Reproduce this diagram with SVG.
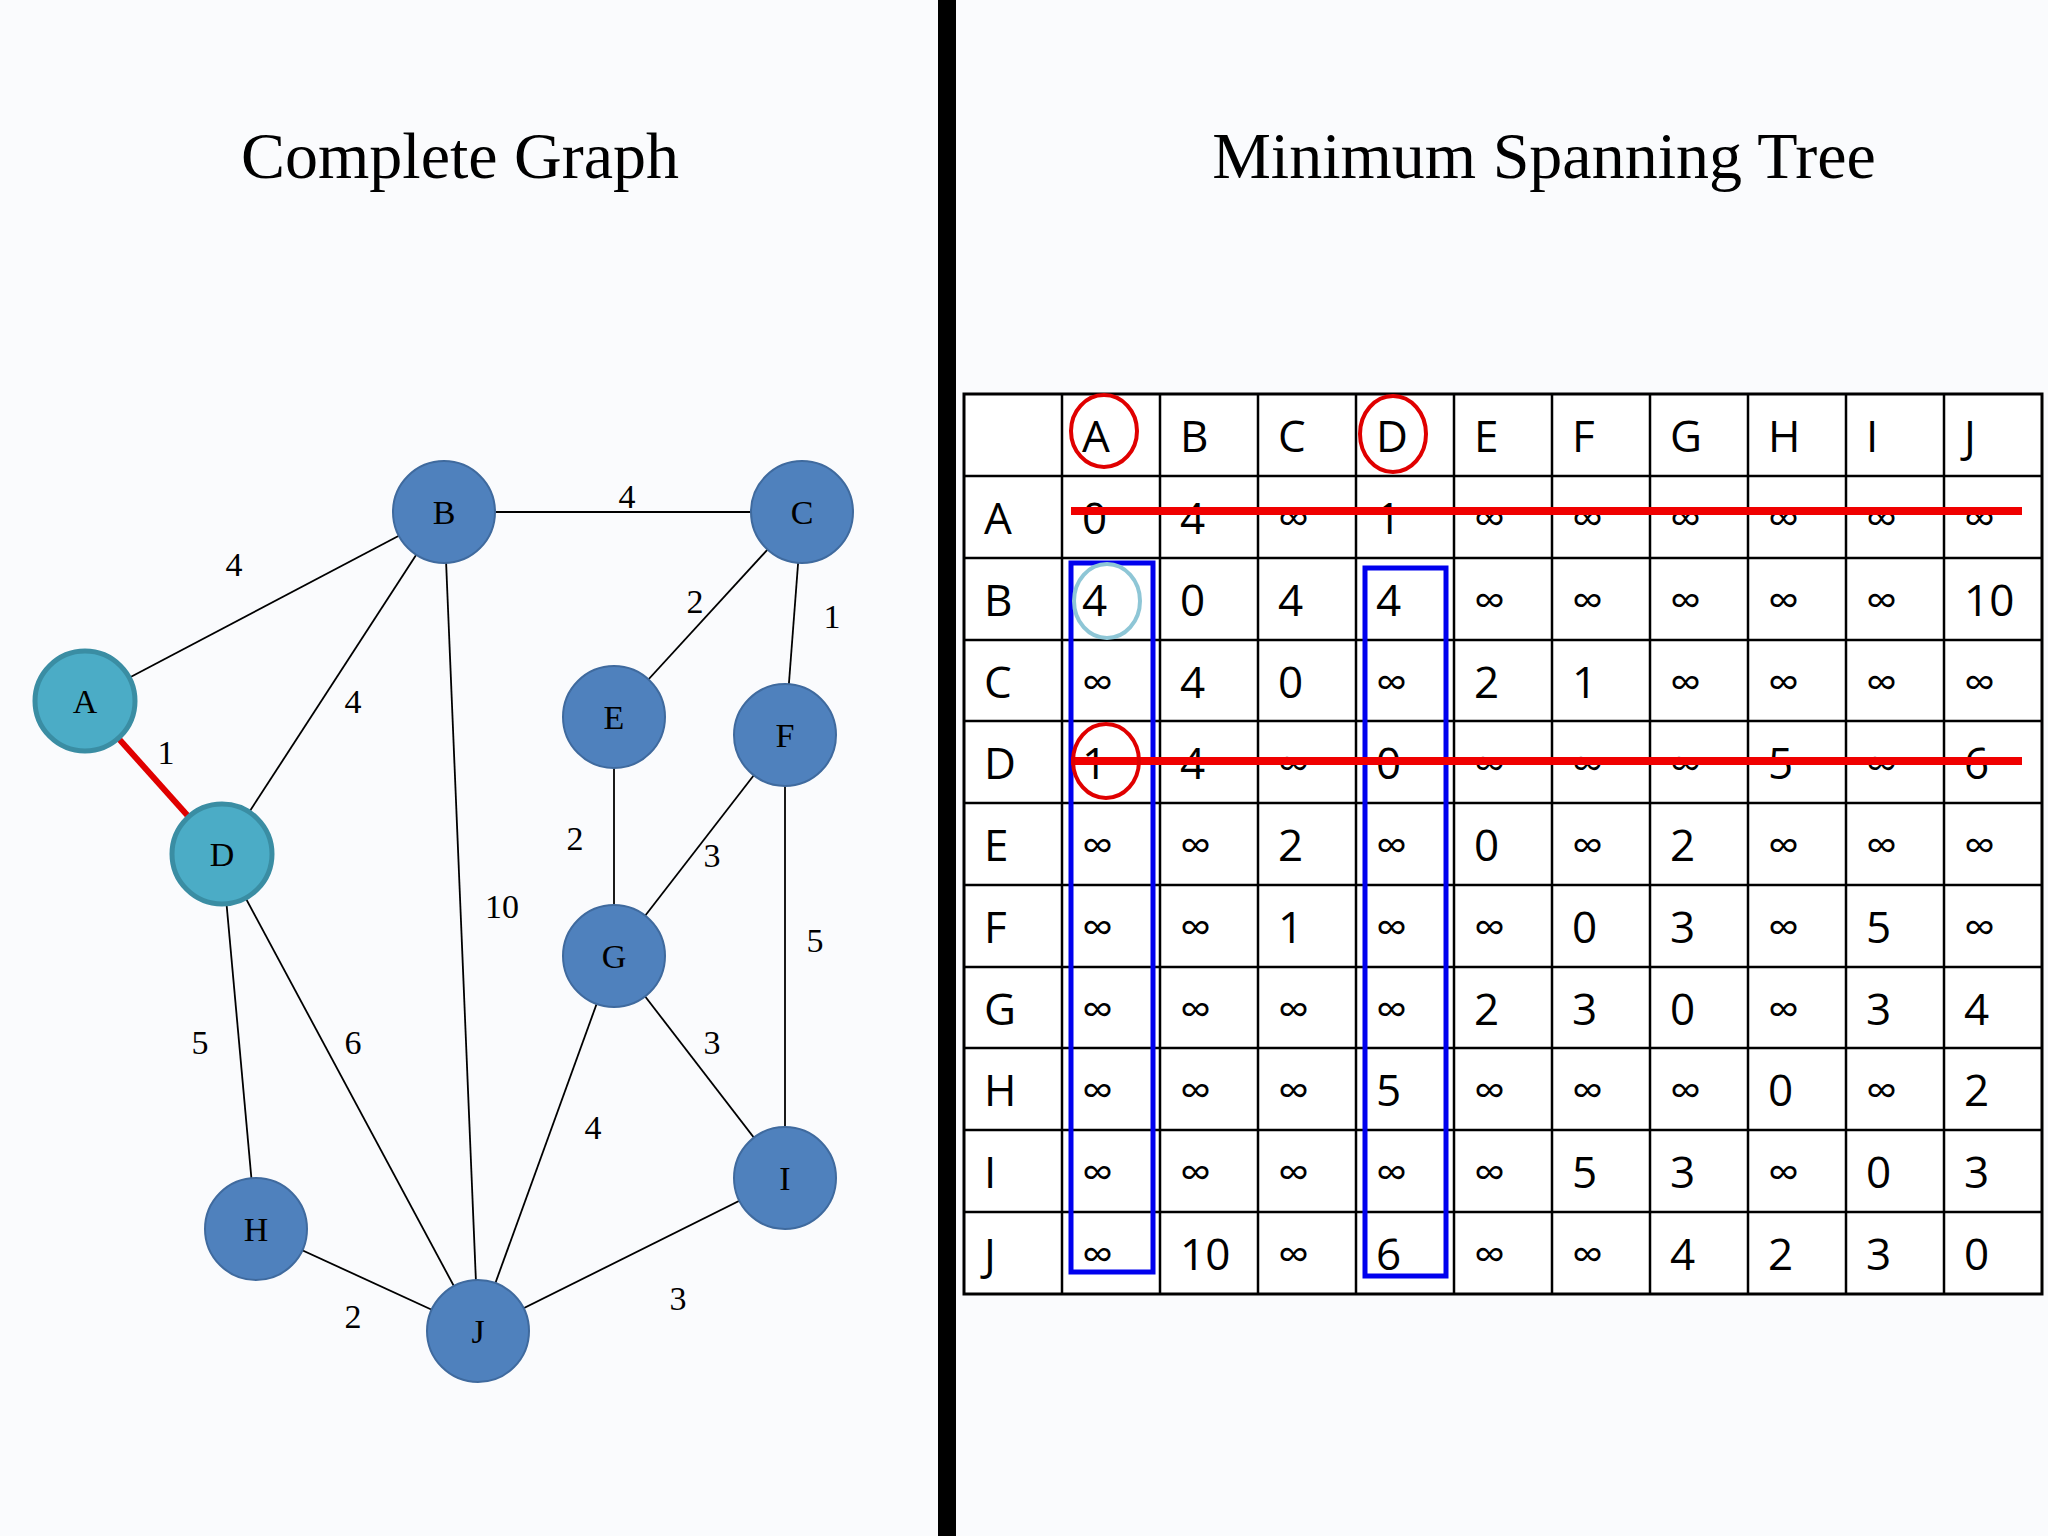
<svg xmlns="http://www.w3.org/2000/svg" width="2048" height="1536" viewBox="0 0 2048 1536">
<style>
.title{font-family:"Liberation Serif",serif;font-size:66px;fill:#000;text-anchor:middle}
.nl{font-family:"Liberation Serif",serif;font-size:34px;fill:#000;text-anchor:middle}
.el{font-family:"Liberation Serif",serif;font-size:34px;fill:#000;text-anchor:middle}
.e{stroke:#000;stroke-width:1.8;fill:none}
.n{fill:#4F81BD;stroke:#3F6A9E;stroke-width:2}
.t{fill:#4BACC6;stroke:#3A8DA3;stroke-width:5}
.c{font-family:"Open Sans","DejaVu Sans",sans-serif;font-size:44px;fill:#000}
.g{stroke:#000;stroke-width:2.5}
</style>
<rect width="2048" height="1536" fill="#fafbfd"/>
<rect x="938" y="0" width="18" height="1536" fill="#000"/>
<text class="title" x="460" y="178">Complete Graph</text>
<text class="title" x="1544" y="178">Minimum Spanning Tree</text>
<g id="connectors">
<line class="e" x1="85" y1="701" x2="444" y2="512"/>
<line x1="85" y1="701" x2="222" y2="854" stroke="#E00000" stroke-width="6"/>
<line class="e" x1="444" y1="512" x2="802" y2="512"/>
<line class="e" x1="444" y1="512" x2="222" y2="854"/>
<line class="e" x1="444" y1="512" x2="478" y2="1331"/>
<line class="e" x1="802" y1="512" x2="614" y2="717"/>
<line class="e" x1="802" y1="512" x2="785" y2="735"/>
<line class="e" x1="222" y1="854" x2="256" y2="1229"/>
<line class="e" x1="222" y1="854" x2="478" y2="1331"/>
<line class="e" x1="614" y1="717" x2="614" y2="956"/>
<line class="e" x1="785" y1="735" x2="614" y2="956"/>
<line class="e" x1="785" y1="735" x2="785" y2="1178"/>
<line class="e" x1="614" y1="956" x2="785" y2="1178"/>
<line class="e" x1="614" y1="956" x2="478" y2="1331"/>
<line class="e" x1="256" y1="1229" x2="478" y2="1331"/>
<line class="e" x1="785" y1="1178" x2="478" y2="1331"/>
<text class="el" x="234" y="576">4</text>
<text class="el" x="627" y="508">4</text>
<text class="el" x="695" y="613">2</text>
<text class="el" x="832" y="628">1</text>
<text class="el" x="166" y="764">1</text>
<text class="el" x="353" y="713">4</text>
<text class="el" x="575" y="850">2</text>
<text class="el" x="712" y="867">3</text>
<text class="el" x="502" y="918">10</text>
<text class="el" x="815" y="952">5</text>
<text class="el" x="200" y="1054">5</text>
<text class="el" x="353" y="1054">6</text>
<text class="el" x="712" y="1054">3</text>
<text class="el" x="593" y="1139">4</text>
<text class="el" x="353" y="1328">2</text>
<text class="el" x="678" y="1310">3</text>
</g>
<g id="A"><circle class="t" cx="85" cy="701" r="50"/><text class="nl" x="85" y="713">A</text></g>
<g id="B"><circle class="n" cx="444" cy="512" r="51"/><text class="nl" x="444" y="524">B</text></g>
<g id="C"><circle class="n" cx="802" cy="512" r="51"/><text class="nl" x="802" y="524">C</text></g>
<g id="D"><circle class="t" cx="222" cy="854" r="50"/><text class="nl" x="222" y="866">D</text></g>
<g id="E"><circle class="n" cx="614" cy="717" r="51"/><text class="nl" x="614" y="729">E</text></g>
<g id="F"><circle class="n" cx="785" cy="735" r="51"/><text class="nl" x="785" y="747">F</text></g>
<g id="G"><circle class="n" cx="614" cy="956" r="51"/><text class="nl" x="614" y="968">G</text></g>
<g id="H"><circle class="n" cx="256" cy="1229" r="51"/><text class="nl" x="256" y="1241">H</text></g>
<g id="I"><circle class="n" cx="785" cy="1178" r="51"/><text class="nl" x="785" y="1190">I</text></g>
<g id="J"><circle class="n" cx="478" cy="1331" r="51"/><text class="nl" x="478" y="1343">J</text></g>
<g id="table">
<rect x="964" y="394" width="1078" height="900" fill="#fff" stroke="#000" stroke-width="3"/>
<g class="g">
<line x1="1062" y1="394" x2="1062" y2="1294"/><line x1="1160" y1="394" x2="1160" y2="1294"/><line x1="1258" y1="394" x2="1258" y2="1294"/><line x1="1356" y1="394" x2="1356" y2="1294"/><line x1="1454" y1="394" x2="1454" y2="1294"/><line x1="1552" y1="394" x2="1552" y2="1294"/><line x1="1650" y1="394" x2="1650" y2="1294"/><line x1="1748" y1="394" x2="1748" y2="1294"/><line x1="1846" y1="394" x2="1846" y2="1294"/><line x1="1944" y1="394" x2="1944" y2="1294"/>
<line x1="964" y1="476" x2="2042" y2="476"/><line x1="964" y1="558" x2="2042" y2="558"/><line x1="964" y1="640" x2="2042" y2="640"/><line x1="964" y1="721" x2="2042" y2="721"/><line x1="964" y1="803" x2="2042" y2="803"/><line x1="964" y1="885" x2="2042" y2="885"/><line x1="964" y1="967" x2="2042" y2="967"/><line x1="964" y1="1048" x2="2042" y2="1048"/><line x1="964" y1="1130" x2="2042" y2="1130"/><line x1="964" y1="1212" x2="2042" y2="1212"/>
</g>
<g class="c">
<text x="1082" y="452">A</text><text x="1180" y="452">B</text><text x="1278" y="452">C</text><text x="1376" y="452">D</text><text x="1474" y="452">E</text><text x="1572" y="452">F</text><text x="1670" y="452">G</text><text x="1768" y="452">H</text><text x="1866" y="452">I</text><text x="1964" y="452">J</text>
<text x="984" y="534">A</text><text x="984" y="616">B</text><text x="984" y="698">C</text><text x="984" y="779">D</text><text x="984" y="861">E</text><text x="984" y="943">F</text><text x="984" y="1025">G</text><text x="984" y="1106">H</text><text x="984" y="1188">I</text><text x="984" y="1270">J</text>
</g>
<g class="c" id="cells">
<text y="534"><tspan x="1082">0</tspan><tspan x="1180">4</tspan><tspan x="1278">∞</tspan><tspan x="1376">1</tspan><tspan x="1474">∞</tspan><tspan x="1572">∞</tspan><tspan x="1670">∞</tspan><tspan x="1768">∞</tspan><tspan x="1866">∞</tspan><tspan x="1964">∞</tspan></text>
<text y="616"><tspan x="1082">4</tspan><tspan x="1180">0</tspan><tspan x="1278">4</tspan><tspan x="1376">4</tspan><tspan x="1474">∞</tspan><tspan x="1572">∞</tspan><tspan x="1670">∞</tspan><tspan x="1768">∞</tspan><tspan x="1866">∞</tspan><tspan x="1964">10</tspan></text>
<text y="698"><tspan x="1082">∞</tspan><tspan x="1180">4</tspan><tspan x="1278">0</tspan><tspan x="1376">∞</tspan><tspan x="1474">2</tspan><tspan x="1572">1</tspan><tspan x="1670">∞</tspan><tspan x="1768">∞</tspan><tspan x="1866">∞</tspan><tspan x="1964">∞</tspan></text>
<text y="779"><tspan x="1082">1</tspan><tspan x="1180">4</tspan><tspan x="1278">∞</tspan><tspan x="1376">0</tspan><tspan x="1474">∞</tspan><tspan x="1572">∞</tspan><tspan x="1670">∞</tspan><tspan x="1768">5</tspan><tspan x="1866">∞</tspan><tspan x="1964">6</tspan></text>
<text y="861"><tspan x="1082">∞</tspan><tspan x="1180">∞</tspan><tspan x="1278">2</tspan><tspan x="1376">∞</tspan><tspan x="1474">0</tspan><tspan x="1572">∞</tspan><tspan x="1670">2</tspan><tspan x="1768">∞</tspan><tspan x="1866">∞</tspan><tspan x="1964">∞</tspan></text>
<text y="943"><tspan x="1082">∞</tspan><tspan x="1180">∞</tspan><tspan x="1278">1</tspan><tspan x="1376">∞</tspan><tspan x="1474">∞</tspan><tspan x="1572">0</tspan><tspan x="1670">3</tspan><tspan x="1768">∞</tspan><tspan x="1866">5</tspan><tspan x="1964">∞</tspan></text>
<text y="1025"><tspan x="1082">∞</tspan><tspan x="1180">∞</tspan><tspan x="1278">∞</tspan><tspan x="1376">∞</tspan><tspan x="1474">2</tspan><tspan x="1572">3</tspan><tspan x="1670">0</tspan><tspan x="1768">∞</tspan><tspan x="1866">3</tspan><tspan x="1964">4</tspan></text>
<text y="1106"><tspan x="1082">∞</tspan><tspan x="1180">∞</tspan><tspan x="1278">∞</tspan><tspan x="1376">5</tspan><tspan x="1474">∞</tspan><tspan x="1572">∞</tspan><tspan x="1670">∞</tspan><tspan x="1768">0</tspan><tspan x="1866">∞</tspan><tspan x="1964">2</tspan></text>
<text y="1188"><tspan x="1082">∞</tspan><tspan x="1180">∞</tspan><tspan x="1278">∞</tspan><tspan x="1376">∞</tspan><tspan x="1474">∞</tspan><tspan x="1572">5</tspan><tspan x="1670">3</tspan><tspan x="1768">∞</tspan><tspan x="1866">0</tspan><tspan x="1964">3</tspan></text>
<text y="1270"><tspan x="1082">∞</tspan><tspan x="1180">10</tspan><tspan x="1278">∞</tspan><tspan x="1376">6</tspan><tspan x="1474">∞</tspan><tspan x="1572">∞</tspan><tspan x="1670">4</tspan><tspan x="1768">2</tspan><tspan x="1866">3</tspan><tspan x="1964">0</tspan></text>
</g>
</g>
<g id="marks" fill="none">
<rect x="1071" y="563" width="82" height="709" stroke="#0000EE" stroke-width="5"/>
<rect x="1365" y="568" width="81" height="708" stroke="#0000EE" stroke-width="5"/>
<line x1="1071" y1="511" x2="2022" y2="511" stroke="#F00000" stroke-width="8"/>
<line x1="1071" y1="761" x2="2022" y2="761" stroke="#F00000" stroke-width="8"/>
<ellipse cx="1104" cy="431" rx="33" ry="36" stroke="#E00000" stroke-width="4"/>
<ellipse cx="1393" cy="434" rx="33" ry="38" stroke="#E00000" stroke-width="4"/>
<ellipse cx="1106" cy="761" rx="33" ry="37" stroke="#E00000" stroke-width="4"/>
<ellipse cx="1107" cy="601" rx="33" ry="37" stroke="#8EC6D6" stroke-width="4"/>
</g>
</svg>
